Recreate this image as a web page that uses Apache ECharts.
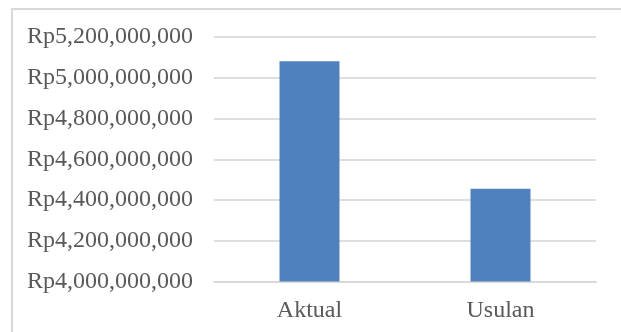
<!DOCTYPE html>
<html>
<head>
<meta charset="utf-8">
<script src="https://cdn.jsdelivr.net/npm/echarts@6/dist/echarts.min.js"></script>
<style>
html,body{margin:0;padding:0;background:#fff;}
#c{width:621px;height:332px;}
</style>
</head>
<body>
<div id="c"></div>
<script>
var categories = ['Aktual', 'Usulan'];
var values = [5081000000, 4455000000];
var yMin = 4000000000;
var yMax = 5200000000;
var yStep = 200000000;

function fmt(v) {
  var s = String(Math.round(v));
  return 'Rp' + s.replace(/\B(?=(\d{3})+(?!\d))/g, ',');
}

var chart = echarts.init(document.getElementById('c'), null, {renderer: 'canvas'});
chart.setOption({
  animation: false,
  backgroundColor: '#ffffff',
  graphic: [{
    type: 'rect',
    shape: {x: 12, y: 9, width: 800, height: 500},
    style: {fill: 'none', stroke: '#d9d9d9', lineWidth: 2},
    silent: true
  }],
  grid: {left: 214, right: 25, top: 37, bottom: 50.5, containLabel: false},
  xAxis: {
    type: 'category',
    data: categories,
    axisLine: {show: true, lineStyle: {color: '#d9d9d9', width: 2}},
    axisTick: {show: false},
    axisLabel: {
      color: '#595959',
      fontFamily: 'Liberation Serif',
      fontSize: 24,
      margin: 17
    }
  },
  yAxis: {
    type: 'value',
    min: yMin,
    max: yMax,
    interval: yStep,
    axisLine: {show: false},
    axisTick: {show: false},
    splitLine: {lineStyle: {color: '#dedede', width: 2}},
    axisLabel: {
      color: '#595959',
      fontFamily: 'Liberation Serif',
      fontSize: 24,
      margin: 21,
      formatter: fmt
    }
  },
  series: [{
    type: 'bar',
    data: values,
    barWidth: '31.4%',
    itemStyle: {color: '#4f81bd'}
  }]
});
</script>
</body>
</html>
